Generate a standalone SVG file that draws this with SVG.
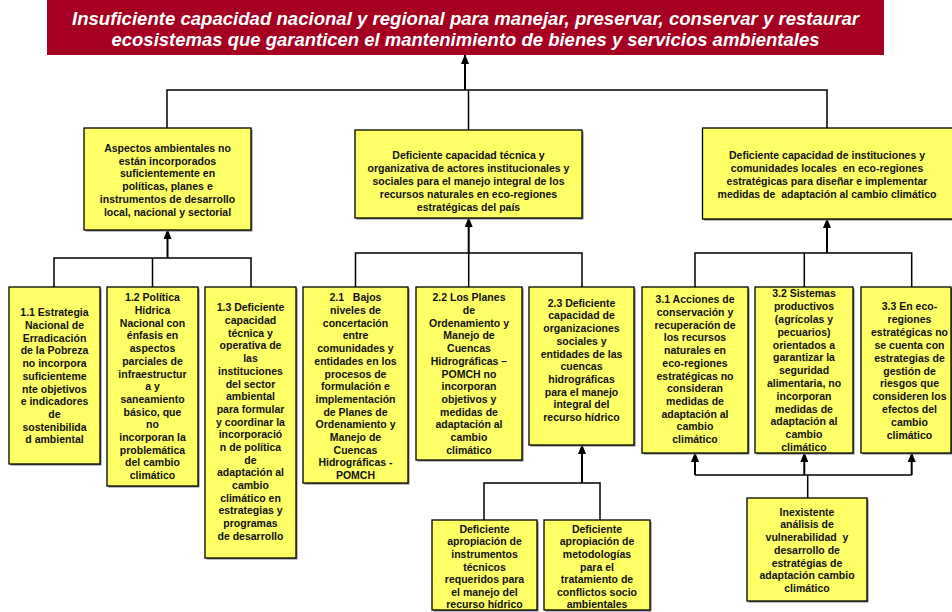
<svg xmlns="http://www.w3.org/2000/svg" width="952" height="612" viewBox="0 0 952 612">
<style>
.box{fill:#FFFF66;stroke:#000;stroke-width:1.3}
.sh{fill:#7a7a7a}
.t{font-family:"Liberation Sans",Arial,sans-serif;font-weight:bold;font-size:10.5px;fill:#111;text-anchor:middle;white-space:pre}
.title{font-family:"Liberation Sans",Arial,sans-serif;font-weight:bold;font-style:italic;font-size:19px;fill:#fff;text-anchor:middle}
.ln{fill:none;stroke:#000;stroke-width:1.5}
.ar{fill:none;stroke:#000;stroke-width:2;marker-end:url(#ah)}
</style>
<defs>
<marker id="ah" markerUnits="userSpaceOnUse" markerWidth="10" markerHeight="8" refX="9" refY="4" orient="auto" viewBox="0 0 10 8">
<path d="M0,0 L10,4 L0,8 Z" fill="#000"/>
</marker>
</defs>
<rect width="952" height="612" fill="#fff"/>

<g id="connectors">
<polyline class="ln" points="167,128 167,90 827,90 827,128"/>
<line class="ln" x1="468.5" y1="90" x2="468.5" y2="130"/>
<line class="ar" x1="465" y1="90" x2="465" y2="55"/>
<polyline class="ln" points="54,287 54,258 251,258 251,287"/>
<line class="ln" x1="152.5" y1="258" x2="152.5" y2="287"/>
<line class="ar" x1="167.5" y1="258" x2="167.5" y2="230"/>
<polyline class="ln" points="355.5,287 355.5,253 582,253 582,287"/>
<line class="ln" x1="468.7" y1="253" x2="468.7" y2="287"/>
<line class="ar" x1="468.7" y1="253" x2="468.7" y2="218"/>
<polyline class="ln" points="695,287 695,253 911.7,253 911.7,287"/>
<line class="ln" x1="804.3" y1="253" x2="804.3" y2="287"/>
<line class="ar" x1="827" y1="253" x2="827" y2="219"/>
<polyline class="ln" points="484,520 484,483 600,483 600,520"/>
<line class="ar" x1="582" y1="483" x2="582" y2="445"/>
<polyline class="ln" points="695,475 911.7,475"/>
<line class="ar" x1="695" y1="475" x2="695" y2="453"/>
<line class="ar" x1="804.3" y1="475" x2="804.3" y2="453"/>
<line class="ar" x1="911.7" y1="475" x2="911.7" y2="453"/>
<line class="ln" x1="807.7" y1="475" x2="807.7" y2="498"/>
</g>

<g id="title">
<rect x="47" y="0" width="837" height="55" fill="#A50021"/>
<text class="title" x="465.5" y="24.5" textLength="787" lengthAdjust="spacingAndGlyphs">Insuficiente capacidad nacional y regional para manejar, preservar, conservar y restaurar</text>
<text class="title" x="465.5" y="46" textLength="708" lengthAdjust="spacingAndGlyphs">ecosistemas que garanticen el mantenimiento de bienes y servicios ambientales</text>
</g>

<g id="nA">
<rect class="sh" x="85.5" y="129.5" width="167" height="102"/>
<rect class="box" x="84" y="128" width="167" height="102"/>
<text class="t" y="152"><tspan x="167.5">Aspectos ambientales no</tspan><tspan x="167.5" dy="12.7">están incorporados</tspan><tspan x="167.5" dy="12.7">suficientemente en</tspan><tspan x="167.5" dy="12.7">políticas, planes e</tspan><tspan x="167.5" dy="12.7">instrumentos de desarrollo</tspan><tspan x="167.5" dy="12.7">local, nacional y sectorial</tspan></text>
</g>

<g id="nB">
<rect class="sh" x="356.5" y="131.5" width="227" height="88"/>
<rect class="box" x="355" y="130" width="227" height="88"/>
<text class="t" y="159"><tspan x="468.5">Deficiente capacidad técnica y</tspan><tspan x="468.5" dy="13">organizativa de actores institucionales y</tspan><tspan x="468.5" dy="13">sociales para el manejo integral de los</tspan><tspan x="468.5" dy="13">recursos naturales en eco-regiones</tspan><tspan x="468.5" dy="13">estratégicas del país</tspan></text>
</g>

<g id="nC">
<rect class="sh" x="704" y="129.5" width="252" height="91"/>
<rect class="box" x="702.5" y="128" width="252" height="91"/>
<text class="t" y="158.5"><tspan x="827">Deficiente capacidad de instituciones y</tspan><tspan x="827" dy="13">comunidades locales  en eco-regiones</tspan><tspan x="827" dy="13">estratégicas para diseñar e implementar</tspan><tspan x="827" dy="13">medidas de  adaptación al cambio climático</tspan></text>
</g>

<g id="n11">
<rect class="sh" x="10.5" y="288.5" width="91" height="177"/>
<rect class="box" x="9" y="287" width="91" height="177"/>
<text class="t" y="316.3"><tspan x="54.5">1.1 Estrategia</tspan><tspan x="54.5" dy="12.7">Nacional de</tspan><tspan x="54.5" dy="12.7">Erradicación</tspan><tspan x="54.5" dy="12.7">de la Pobreza</tspan><tspan x="54.5" dy="12.7">no incorpora</tspan><tspan x="54.5" dy="12.7">suficienteme</tspan><tspan x="54.5" dy="12.7">nte objetivos</tspan><tspan x="54.5" dy="12.7">e indicadores</tspan><tspan x="54.5" dy="12.7">de</tspan><tspan x="54.5" dy="12.7">sostenibilida</tspan><tspan x="54.5" dy="12.7">d ambiental</tspan></text>
</g>

<g id="n12">
<rect class="sh" x="108.5" y="288.5" width="91" height="199"/>
<rect class="box" x="107" y="287" width="91" height="199"/>
<text class="t" y="301.3"><tspan x="152.5">1.2 Política</tspan><tspan x="152.5" dy="12.7">Hídrica</tspan><tspan x="152.5" dy="12.7">Nacional con</tspan><tspan x="152.5" dy="12.7">énfasis en</tspan><tspan x="152.5" dy="12.7">aspectos</tspan><tspan x="152.5" dy="12.7">parciales de</tspan><tspan x="152.5" dy="12.7">infraestructur</tspan><tspan x="152.5" dy="12.7">a y</tspan><tspan x="152.5" dy="12.7">saneamiento</tspan><tspan x="152.5" dy="12.7">básico, que</tspan><tspan x="152.5" dy="12.7">no</tspan><tspan x="152.5" dy="12.7">incorporan la</tspan><tspan x="152.5" dy="12.7">problemática</tspan><tspan x="152.5" dy="12.7">del cambio</tspan><tspan x="152.5" dy="12.7">climático</tspan></text>
</g>

<g id="n13">
<rect class="sh" x="206.5" y="288.5" width="91" height="271"/>
<rect class="box" x="205" y="287" width="91" height="271"/>
<text class="t" y="311.3"><tspan x="250.5">1.3 Deficiente</tspan><tspan x="250.5" dy="12.7">capacidad</tspan><tspan x="250.5" dy="12.7">técnica y</tspan><tspan x="250.5" dy="12.7">operativa de</tspan><tspan x="250.5" dy="12.7">las</tspan><tspan x="250.5" dy="12.7">instituciones</tspan><tspan x="250.5" dy="12.7">del sector</tspan><tspan x="250.5" dy="12.7">ambiental</tspan><tspan x="250.5" dy="12.7">para formular</tspan><tspan x="250.5" dy="12.7">y coordinar la</tspan><tspan x="250.5" dy="12.7">incorporació</tspan><tspan x="250.5" dy="12.7">n de política</tspan><tspan x="250.5" dy="12.7">de</tspan><tspan x="250.5" dy="12.7">adaptación al</tspan><tspan x="250.5" dy="12.7">cambio</tspan><tspan x="250.5" dy="12.7">climático en</tspan><tspan x="250.5" dy="12.7">estrategias y</tspan><tspan x="250.5" dy="12.7">programas</tspan><tspan x="250.5" dy="12.7">de desarrollo</tspan></text>
</g>

<g id="n21">
<rect class="sh" x="304.5" y="288.5" width="105" height="196"/>
<rect class="box" x="303" y="287" width="105" height="196"/>
<text class="t" y="301.3"><tspan x="355.5">2.1   Bajos</tspan><tspan x="355.5" dy="12.7">niveles de</tspan><tspan x="355.5" dy="12.7">concertación</tspan><tspan x="355.5" dy="12.7">entre</tspan><tspan x="355.5" dy="12.7">comunidades y</tspan><tspan x="355.5" dy="12.7">entidades en los</tspan><tspan x="355.5" dy="12.7">procesos de</tspan><tspan x="355.5" dy="12.7">formulación e</tspan><tspan x="355.5" dy="12.7">implementación</tspan><tspan x="355.5" dy="12.7">de Planes de</tspan><tspan x="355.5" dy="12.7">Ordenamiento y</tspan><tspan x="355.5" dy="12.7">Manejo de</tspan><tspan x="355.5" dy="12.7">Cuencas</tspan><tspan x="355.5" dy="12.7">Hidrográficas -</tspan><tspan x="355.5" dy="12.7">POMCH</tspan></text>
</g>

<g id="n22">
<rect class="sh" x="417.5" y="288.5" width="106" height="173"/>
<rect class="box" x="416" y="287" width="106" height="173"/>
<text class="t" y="301.3"><tspan x="469">2.2 Los Planes</tspan><tspan x="469" dy="12.7">de</tspan><tspan x="469" dy="12.7">Ordenamiento y</tspan><tspan x="469" dy="12.7">Manejo de</tspan><tspan x="469" dy="12.7">Cuencas</tspan><tspan x="469" dy="12.7">Hidrográficas –</tspan><tspan x="469" dy="12.7">POMCH no</tspan><tspan x="469" dy="12.7">incorporan</tspan><tspan x="469" dy="12.7">objetivos y</tspan><tspan x="469" dy="12.7">medidas de</tspan><tspan x="469" dy="12.7">adaptación al</tspan><tspan x="469" dy="12.7">cambio</tspan><tspan x="469" dy="12.7">climático</tspan></text>
</g>

<g id="n23">
<rect class="sh" x="530.5" y="288.5" width="105" height="158"/>
<rect class="box" x="529" y="287" width="105" height="158"/>
<text class="t" y="306.7"><tspan x="581.5">2.3 Deficiente</tspan><tspan x="581.5" dy="12.7">capacidad de</tspan><tspan x="581.5" dy="12.7">organizaciones</tspan><tspan x="581.5" dy="12.7">sociales y</tspan><tspan x="581.5" dy="12.7">entidades de las</tspan><tspan x="581.5" dy="12.7">cuencas</tspan><tspan x="581.5" dy="12.7">hidrográficas</tspan><tspan x="581.5" dy="12.7">para el manejo</tspan><tspan x="581.5" dy="12.7">integral del</tspan><tspan x="581.5" dy="12.7">recurso hídrico</tspan></text>
</g>

<g id="n23a">
<rect class="sh" x="433.5" y="521.5" width="105" height="90"/>
<rect class="box" x="432" y="520" width="105" height="90"/>
<text class="t" y="532.7"><tspan x="484.5">Deficiente</tspan><tspan x="484.5" dy="12.6">apropiación de</tspan><tspan x="484.5" dy="12.6">instrumentos</tspan><tspan x="484.5" dy="12.6">técnicos</tspan><tspan x="484.5" dy="12.6">requeridos para</tspan><tspan x="484.5" dy="12.6">el manejo del</tspan><tspan x="484.5" dy="12.6">recurso hídrico</tspan></text>
</g>

<g id="n23b">
<rect class="sh" x="545.5" y="521.5" width="106" height="90"/>
<rect class="box" x="544" y="520" width="106" height="90"/>
<text class="t" y="532.7"><tspan x="597">Deficiente</tspan><tspan x="597" dy="12.6">apropiación de</tspan><tspan x="597" dy="12.6">metodologías</tspan><tspan x="597" dy="12.6">para el</tspan><tspan x="597" dy="12.6">tratamiento de</tspan><tspan x="597" dy="12.6">conflictos socio</tspan><tspan x="597" dy="12.6">ambientales</tspan></text>
</g>

<g id="n31">
<rect class="sh" x="643.5" y="288.5" width="106" height="166"/>
<rect class="box" x="642" y="287" width="106" height="166"/>
<text class="t" y="303.3"><tspan x="695">3.1 Acciones de</tspan><tspan x="695" dy="12.7">conservación y</tspan><tspan x="695" dy="12.7">recuperación de</tspan><tspan x="695" dy="12.7">los recursos</tspan><tspan x="695" dy="12.7">naturales en</tspan><tspan x="695" dy="12.7">eco-regiones</tspan><tspan x="695" dy="12.7">estratégicas no</tspan><tspan x="695" dy="12.7">consideran</tspan><tspan x="695" dy="12.7">medidas de</tspan><tspan x="695" dy="12.7">adaptación al</tspan><tspan x="695" dy="12.7">cambio</tspan><tspan x="695" dy="12.7">climático</tspan></text>
</g>

<g id="n32">
<rect class="sh" x="756.5" y="288.5" width="98" height="166"/>
<rect class="box" x="755" y="287" width="98" height="166"/>
<text class="t" y="297.3"><tspan x="804">3.2 Sistemas</tspan><tspan x="804" dy="12.8">productivos</tspan><tspan x="804" dy="12.8">(agrícolas y</tspan><tspan x="804" dy="12.8">pecuarios)</tspan><tspan x="804" dy="12.8">orientados a</tspan><tspan x="804" dy="12.8">garantizar la</tspan><tspan x="804" dy="12.8">seguridad</tspan><tspan x="804" dy="12.8">alimentaria, no</tspan><tspan x="804" dy="12.8">incorporan</tspan><tspan x="804" dy="12.8">medidas de</tspan><tspan x="804" dy="12.8">adaptación al</tspan><tspan x="804" dy="12.8">cambio</tspan><tspan x="804" dy="12.8">climático</tspan></text>
</g>

<g id="n33">
<rect class="sh" x="862.5" y="288.5" width="90" height="166"/>
<rect class="box" x="861" y="287" width="90" height="166"/>
<text class="t" y="310"><tspan x="909.5">3.3 En eco-</tspan><tspan x="909.5" dy="12.9">regiones</tspan><tspan x="909.5" dy="12.9">estratégicas no</tspan><tspan x="909.5" dy="12.9">se cuenta con</tspan><tspan x="909.5" dy="12.9">estrategias de</tspan><tspan x="909.5" dy="12.9">gestión de</tspan><tspan x="909.5" dy="12.9">riesgos que</tspan><tspan x="909.5" dy="12.9">consideren los</tspan><tspan x="909.5" dy="12.9">efectos del</tspan><tspan x="909.5" dy="12.9">cambio</tspan><tspan x="909.5" dy="12.9">climático</tspan></text>
</g>

<g id="n3x">
<rect class="sh" x="748.5" y="499.5" width="120" height="103"/>
<rect class="box" x="747" y="498" width="120" height="103"/>
<text class="t" y="515.7"><tspan x="807">Inexistente</tspan><tspan x="807" dy="12.7">análisis de</tspan><tspan x="807" dy="12.7">vulnerabilidad  y</tspan><tspan x="807" dy="12.7">desarrollo de</tspan><tspan x="807" dy="12.7">estratégias de</tspan><tspan x="807" dy="12.7">adaptación cambio</tspan><tspan x="807" dy="12.7">climático</tspan></text>
</g>
</svg>
